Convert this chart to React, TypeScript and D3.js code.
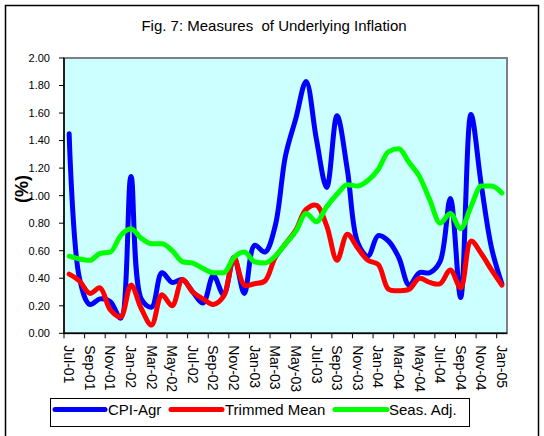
import * as d3 from "d3";

const months = [
  "Jul-01", "Aug-01", "Sep-01", "Oct-01", "Nov-01", "Dec-01",
  "Jan-02", "Feb-02", "Mar-02", "Apr-02", "May-02", "Jun-02",
  "Jul-02", "Aug-02", "Sep-02", "Oct-02", "Nov-02", "Dec-02",
  "Jan-03", "Feb-03", "Mar-03", "Apr-03", "May-03", "Jun-03",
  "Jul-03", "Aug-03", "Sep-03", "Oct-03", "Nov-03", "Dec-03",
  "Jan-04", "Feb-04", "Mar-04", "Apr-04", "May-04", "Jun-04",
  "Jul-04", "Aug-04", "Sep-04", "Oct-04", "Nov-04", "Dec-04",
  "Jan-05",
];

const cpiAgr = [
  1.45, 0.40, 0.21, 0.25, 0.23, 0.11,
  1.14, 0.25, 0.19, 0.44, 0.37, 0.39,
  0.30, 0.22, 0.42, 0.28, 0.55, 0.29,
  0.64, 0.59, 0.78, 1.29, 1.56, 1.83,
  1.41, 1.06, 1.58, 1.19, 0.66, 0.56,
  0.71, 0.67, 0.55, 0.35, 0.44, 0.44,
  0.52, 0.98, 0.26, 1.59, 1.08, 0.62,
  0.36,
];

const trimmedMean = [
  0.43, 0.38, 0.29, 0.33, 0.17, 0.12,
  0.35, 0.18, 0.06, 0.28, 0.20, 0.39,
  0.30, 0.25, 0.21, 0.27, 0.55, 0.35,
  0.36, 0.38, 0.55, 0.65, 0.75, 0.90,
  0.93, 0.78, 0.53, 0.72, 0.62, 0.53,
  0.50, 0.32, 0.31, 0.32, 0.40, 0.37,
  0.36, 0.46, 0.33, 0.67, 0.58, 0.46,
  0.35,
];

const seasAdj = [
  0.56, 0.54, 0.53, 0.58, 0.59, 0.71,
  0.76, 0.69, 0.65, 0.65, 0.60, 0.52,
  0.51, 0.47, 0.44, 0.44, 0.55, 0.59,
  0.52, 0.51, 0.56, 0.65, 0.74, 0.87,
  0.81, 0.92, 1.01, 1.08, 1.07, 1.11,
  1.19, 1.32, 1.34, 1.24, 1.14, 0.97,
  0.80, 0.87, 0.76, 0.92, 1.07, 1.07,
  1.02,
];

const yTicks = [0, 0.2, 0.4, 0.6, 0.8, 1.0, 1.2, 1.4, 1.6, 1.8, 2.0];

const seriesNames = ["CPI-Agr", "Trimmed Mean", "Seas. Adj."];
const seriesColors = ["#0000ff", "#ff0000", "#00ff00"];

const FONT = "'Liberation Sans', Arial, sans-serif";

export default function App() {
  const width = 544;
  const height = 436;
  const left = 64, right = 507, top = 58, bottom = 333.3;

  const x = d3.scaleBand<string>().domain(months).range([left, right]).padding(0);
  const cx = (i: number) => (x(months[i]) ?? 0) + x.bandwidth() / 2;
  const y = d3.scaleLinear().domain([0, 2]).range([bottom, top]);

  const smooth = d3.line<number>().x((_, i) => cx(i)).y((d) => y(d)).curve(d3.curveCatmullRom.alpha(0.5));
  const straight = d3.line<number>().x((_, i) => cx(i)).y((d) => y(d)).curve(d3.curveMonotoneX);

  const series = [
    { data: cpiAgr, gen: smooth },
    { data: trimmedMean, gen: smooth },
    { data: seasAdj, gen: straight },
  ];

  // legend layout
  const legendItems = [
    { x1: 55, x2: 105, tx: 108 },
    { x1: 171, x2: 222, tx: 225 },
    { x1: 335, x2: 387, tx: 389 },
  ];

  return (
    <svg
      width={width}
      height={height}
      style={{ position: "absolute", left: 0, top: 0, background: "#fff" }}
      fontFamily={FONT}
    >
      <rect x={5.5} y={5.5} width={533} height={445} fill="#fff" stroke="#000" strokeWidth={1.5} />

      <text x={274} y={31} textAnchor="middle" fontSize={15} fill="#000">
        Fig. 7: Measures{"\u00a0"} of Underlying Inflation
      </text>

      {/* plot area */}
      <rect x={left} y={top} width={right - left} height={bottom - top} fill="#ccffff" stroke="#808080" strokeWidth={2} />

      {series.map((s, k) => (
        <path
          key={k}
          d={s.gen(s.data) ?? ""}
          fill="none"
          stroke={seriesColors[k]}
          strokeWidth={5}
          strokeLinejoin="round"
          strokeLinecap="round"
        />
      ))}

      {/* y axis */}
      <line x1={left} x2={left} y1={top} y2={bottom} stroke="#000" strokeWidth={1.5} />
      {yTicks.map((t) => (
        <g key={t}>
          <line x1={left - 5} x2={left} y1={y(t)} y2={y(t)} stroke="#000" />
          <text x={50} y={y(t)} dy="0.35em" textAnchor="end" fontSize={11}>
            {t.toFixed(2)}
          </text>
        </g>
      ))}
      <text
        transform="translate(28,189) rotate(-90)"
        textAnchor="middle"
        fontSize={18}
        fontWeight="bold"
      >
        (%)
      </text>

      {/* x axis */}
      <line x1={left} x2={right} y1={bottom} y2={bottom} stroke="#000" strokeWidth={1.5} />
      {months.map((m, i) =>
        i % 2 === 0 ? (
          <g key={m}>
            <line x1={x(m)} x2={x(m)} y1={bottom} y2={bottom + 5} stroke="#000" />
            <text
              transform={`translate(${cx(i)},${bottom + 12}) rotate(90)`}
              dy="0.35em"
              fontSize={14}
            >
              {m}
            </text>
          </g>
        ) : null
      )}

      {/* legend */}
      <rect x={50.5} y={398.5} width={419} height={28} fill="#fff" stroke="#000" strokeWidth={1} />
      {legendItems.map((l, k) => (
        <g key={k}>
          <line x1={l.x1} x2={l.x2} y1={409.5} y2={409.5} stroke={seriesColors[k]} strokeWidth={5} strokeLinecap="round" />
          <text x={l.tx} y={415} fontSize={15}>
            {seriesNames[k]}
          </text>
        </g>
      ))}
    </svg>
  );
}
